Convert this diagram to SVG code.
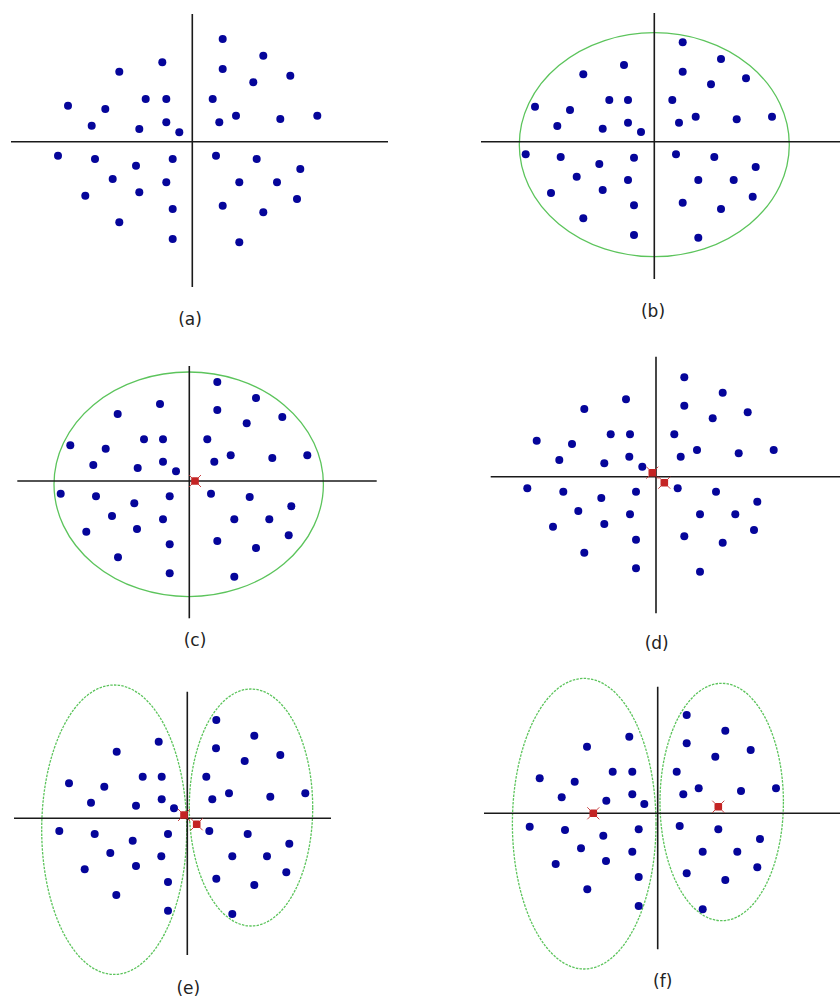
<svg xmlns="http://www.w3.org/2000/svg" xmlns:xlink="http://www.w3.org/1999/xlink" width="840" height="1005" viewBox="0 0 840 1005">
<style>
.ax{stroke:#1a1a1a;stroke-width:1.6;fill:none}
.el{stroke:#5cc45c;stroke-width:1.3;fill:none}
.eld{stroke:#5cc45c;stroke-width:1.3;fill:none;stroke-dasharray:2.5 1.2}
.d circle{fill:#05059a;r:4px}
.lb{font-family:"DejaVu Sans",Verdana,sans-serif;font-size:17px;fill:#222;text-anchor:middle}
.rx{stroke:#c23030;stroke-width:0.9}
.rc{fill:#c42424}
</style>
<defs>
<g id="red">
<line class="rx" x1="-6" y1="-6" x2="6" y2="6"/>
<line class="rx" x1="-6" y1="6" x2="6" y2="-6"/>
<rect class="rc" x="-3.8" y="-3.8" width="7.6" height="7.6" rx="1.5"/>
</g>
</defs>
<rect width="840" height="1005" fill="#ffffff"/>

<g id="panel-a">
<line class="ax" x1="192.3" y1="14" x2="192.3" y2="287"/>
<line class="ax" x1="11" y1="141.7" x2="388" y2="141.7"/>
<g class="d">
<circle cx="222.7" cy="39" r="4"/><circle cx="263.3" cy="55.7" r="4"/><circle cx="162.3" cy="62.3" r="4"/><circle cx="119.3" cy="71.7" r="4"/><circle cx="222.7" cy="69" r="4"/><circle cx="290.3" cy="75.7" r="4"/><circle cx="253.3" cy="82.3" r="4"/><circle cx="68" cy="105.7" r="4"/><circle cx="105.3" cy="109" r="4"/><circle cx="145.7" cy="99" r="4"/><circle cx="166.3" cy="99" r="4"/><circle cx="212.7" cy="99" r="4"/><circle cx="236" cy="115.7" r="4"/><circle cx="280.3" cy="119" r="4"/><circle cx="317.3" cy="115.7" r="4"/><circle cx="91.7" cy="125.7" r="4"/><circle cx="139.3" cy="129" r="4"/><circle cx="166.3" cy="122.3" r="4"/><circle cx="179.3" cy="132.3" r="4"/><circle cx="219.3" cy="122.3" r="4"/>
<circle cx="58" cy="155.7" r="4"/><circle cx="95" cy="159" r="4"/><circle cx="136" cy="165.7" r="4"/><circle cx="172.7" cy="159" r="4"/><circle cx="216" cy="155.7" r="4"/><circle cx="256.7" cy="159" r="4"/><circle cx="300.3" cy="169" r="4"/><circle cx="112.7" cy="179" r="4"/><circle cx="166.3" cy="182.3" r="4"/><circle cx="139.3" cy="192.3" r="4"/><circle cx="85.3" cy="195.7" r="4"/><circle cx="239.3" cy="182.3" r="4"/><circle cx="277" cy="182.3" r="4"/><circle cx="297" cy="199" r="4"/><circle cx="222.7" cy="205.7" r="4"/><circle cx="263.3" cy="212.3" r="4"/><circle cx="172.7" cy="209" r="4"/><circle cx="119.3" cy="222.3" r="4"/><circle cx="172.7" cy="239" r="4"/><circle cx="239.3" cy="242.3" r="4"/>
</g>
<text class="lb" x="190" y="325">(a)</text>
</g>

<g id="panel-b">
<ellipse class="el" cx="654.3" cy="144.7" rx="135" ry="112"/>
<line class="ax" x1="654.3" y1="13" x2="654.3" y2="279"/>
<line class="ax" x1="481" y1="141.7" x2="840" y2="141.7"/>
<g class="d">
<circle cx="682.7" cy="42.3" r="4"/><circle cx="721" cy="59" r="4"/><circle cx="624" cy="65" r="4"/><circle cx="583.3" cy="74.3" r="4"/><circle cx="682.7" cy="71.7" r="4"/><circle cx="746" cy="78.3" r="4"/><circle cx="711" cy="84.3" r="4"/><circle cx="535" cy="106.7" r="4"/><circle cx="570" cy="110" r="4"/><circle cx="609.3" cy="100" r="4"/><circle cx="628" cy="100" r="4"/><circle cx="672.3" cy="100" r="4"/><circle cx="695.7" cy="116.7" r="4"/><circle cx="736.7" cy="119.3" r="4"/><circle cx="772" cy="116.7" r="4"/><circle cx="557.3" cy="126" r="4"/><circle cx="602.7" cy="128.7" r="4"/><circle cx="628" cy="122.7" r="4"/><circle cx="641" cy="132" r="4"/><circle cx="679" cy="122.7" r="4"/>
<circle cx="525.7" cy="154.3" r="4"/><circle cx="560.7" cy="157" r="4"/><circle cx="599.3" cy="164" r="4"/><circle cx="634" cy="157.7" r="4"/><circle cx="676" cy="154.3" r="4"/><circle cx="714.3" cy="157" r="4"/><circle cx="755.7" cy="167" r="4"/><circle cx="576.7" cy="176.7" r="4"/><circle cx="628" cy="180" r="4"/><circle cx="602.7" cy="190" r="4"/><circle cx="551" cy="193" r="4"/><circle cx="698.3" cy="180" r="4"/><circle cx="733.7" cy="180" r="4"/><circle cx="752.7" cy="196.7" r="4"/><circle cx="682.7" cy="202.7" r="4"/><circle cx="721" cy="209" r="4"/><circle cx="634" cy="205.3" r="4"/><circle cx="583.3" cy="218.3" r="4"/><circle cx="634" cy="235" r="4"/><circle cx="698.3" cy="237.7" r="4"/>
</g>
<text class="lb" x="653" y="317">(b)</text>
</g>

<g id="panel-c">
<ellipse class="el" cx="188.7" cy="484.3" rx="134.7" ry="112.3"/>
<line class="ax" x1="189.3" y1="366" x2="189.3" y2="618.3"/>
<line class="ax" x1="17.3" y1="481" x2="376.7" y2="481"/>
<g class="d">
<circle cx="217.3" cy="382" r="4"/><circle cx="256" cy="398" r="4"/><circle cx="160" cy="404" r="4"/><circle cx="117.7" cy="414" r="4"/><circle cx="217.3" cy="410" r="4"/><circle cx="282.3" cy="417" r="4"/><circle cx="246.7" cy="423.3" r="4"/><circle cx="70.3" cy="445.3" r="4"/><circle cx="105.7" cy="448.7" r="4"/><circle cx="144" cy="439.3" r="4"/><circle cx="163" cy="439.3" r="4"/><circle cx="207.3" cy="439.3" r="4"/><circle cx="230.7" cy="455.3" r="4"/><circle cx="272.3" cy="458" r="4"/><circle cx="307.3" cy="455.3" r="4"/><circle cx="93.3" cy="465" r="4"/><circle cx="137.7" cy="468" r="4"/><circle cx="163" cy="461.7" r="4"/><circle cx="176" cy="471.3" r="4"/><circle cx="214.3" cy="461.7" r="4"/>
<circle cx="60.7" cy="493.7" r="4"/><circle cx="96" cy="496.3" r="4"/><circle cx="134.3" cy="503.3" r="4"/><circle cx="169.7" cy="496.3" r="4"/><circle cx="211" cy="493.7" r="4"/><circle cx="249.7" cy="497" r="4"/><circle cx="291.3" cy="506.3" r="4"/><circle cx="112" cy="516" r="4"/><circle cx="163" cy="519.3" r="4"/><circle cx="137" cy="529" r="4"/><circle cx="86.3" cy="531.7" r="4"/><circle cx="234.3" cy="519.3" r="4"/><circle cx="269.3" cy="519.3" r="4"/><circle cx="288.7" cy="535.3" r="4"/><circle cx="217.3" cy="541" r="4"/><circle cx="256" cy="548" r="4"/><circle cx="169.7" cy="544.3" r="4"/><circle cx="118" cy="557.3" r="4"/><circle cx="169.7" cy="573.3" r="4"/><circle cx="234.3" cy="576.7" r="4"/>
</g>
<use xlink:href="#red" href="#red" x="195" y="481"/>
<text class="lb" x="195" y="646">(c)</text>
</g>

<g id="panel-d">
<line class="ax" x1="656" y1="356.7" x2="656" y2="613.3"/>
<line class="ax" x1="490.7" y1="476.7" x2="840" y2="476.7"/>
<g class="d">
<circle cx="684.3" cy="377.3" r="4"/><circle cx="722.7" cy="392.7" r="4"/><circle cx="626" cy="399.3" r="4"/><circle cx="584.3" cy="409" r="4"/><circle cx="684.3" cy="405.7" r="4"/><circle cx="747.7" cy="412.3" r="4"/><circle cx="712.7" cy="418.3" r="4"/><circle cx="536.7" cy="440.7" r="4"/><circle cx="572" cy="444" r="4"/><circle cx="610.7" cy="434.3" r="4"/><circle cx="630" cy="434.3" r="4"/><circle cx="674.3" cy="434.3" r="4"/><circle cx="697" cy="450" r="4"/><circle cx="738.7" cy="453.3" r="4"/><circle cx="773.7" cy="450" r="4"/><circle cx="559.3" cy="460" r="4"/><circle cx="604.3" cy="463.3" r="4"/><circle cx="629.3" cy="456.7" r="4"/><circle cx="642.3" cy="466.7" r="4"/><circle cx="680.7" cy="456.7" r="4"/>
<circle cx="527.3" cy="488.3" r="4"/><circle cx="563.3" cy="491.7" r="4"/><circle cx="601.3" cy="498" r="4"/><circle cx="636" cy="491.7" r="4"/><circle cx="677.7" cy="488.3" r="4"/><circle cx="716" cy="491.7" r="4"/><circle cx="757.3" cy="501.7" r="4"/><circle cx="578.3" cy="511" r="4"/><circle cx="630" cy="514.3" r="4"/><circle cx="604.3" cy="524" r="4"/><circle cx="553" cy="526.7" r="4"/><circle cx="700" cy="514.3" r="4"/><circle cx="735.3" cy="514.3" r="4"/><circle cx="754" cy="530" r="4"/><circle cx="684.3" cy="536.3" r="4"/><circle cx="722.7" cy="542.7" r="4"/><circle cx="636" cy="539.7" r="4"/><circle cx="584.3" cy="552.7" r="4"/><circle cx="636" cy="568.3" r="4"/><circle cx="700" cy="571.7" r="4"/>
</g>
<use xlink:href="#red" href="#red" x="652.3" y="472.7"/>
<use xlink:href="#red" href="#red" x="664.3" y="482.7"/>
<text class="lb" x="656.7" y="649">(d)</text>
</g>

<g id="panel-e">
<ellipse class="eld" cx="114.2" cy="829.7" rx="72.5" ry="144.7"/>
<ellipse class="eld" cx="251" cy="807.5" rx="61.7" ry="118.5"/>
<line class="ax" x1="187.3" y1="691.7" x2="187.3" y2="955"/>
<line class="ax" x1="14" y1="818.3" x2="331" y2="818.3"/>
<g class="d">
<circle cx="216.3" cy="720" r="4"/><circle cx="254.3" cy="735.7" r="4"/><circle cx="158.7" cy="741.7" r="4"/><circle cx="116.7" cy="751.7" r="4"/><circle cx="216" cy="748.3" r="4"/><circle cx="280.3" cy="755" r="4"/><circle cx="244.7" cy="761" r="4"/><circle cx="69" cy="783.3" r="4"/><circle cx="104.3" cy="786.7" r="4"/><circle cx="142.7" cy="776.7" r="4"/><circle cx="161.7" cy="776.7" r="4"/><circle cx="206.3" cy="776.7" r="4"/><circle cx="229" cy="793.3" r="4"/><circle cx="270.3" cy="796.7" r="4"/><circle cx="305.3" cy="793.3" r="4"/><circle cx="91" cy="802.7" r="4"/><circle cx="136" cy="805.7" r="4"/><circle cx="161.7" cy="799.3" r="4"/><circle cx="174" cy="808.3" r="4"/><circle cx="212.3" cy="799.3" r="4"/>
<circle cx="59.3" cy="831" r="4"/><circle cx="94.7" cy="834" r="4"/><circle cx="132.7" cy="840.7" r="4"/><circle cx="168" cy="834" r="4"/><circle cx="209.3" cy="831" r="4"/><circle cx="247.7" cy="834" r="4"/><circle cx="289.3" cy="843.7" r="4"/><circle cx="110.3" cy="853" r="4"/><circle cx="161.3" cy="856.3" r="4"/><circle cx="136" cy="866" r="4"/><circle cx="84.7" cy="869.3" r="4"/><circle cx="232.3" cy="856.3" r="4"/><circle cx="267" cy="856.3" r="4"/><circle cx="286.3" cy="872.3" r="4"/><circle cx="216.3" cy="878.7" r="4"/><circle cx="254.3" cy="885" r="4"/><circle cx="168" cy="882" r="4"/><circle cx="116.3" cy="895" r="4"/><circle cx="168" cy="910.7" r="4"/><circle cx="232.3" cy="914" r="4"/>
</g>
<use xlink:href="#red" href="#red" x="184" y="815"/>
<use xlink:href="#red" href="#red" x="196.7" y="824.3"/>
<text class="lb" x="188.3" y="994">(e)</text>
</g>

<g id="panel-f">
<ellipse class="eld" cx="584.2" cy="823.7" rx="71.8" ry="145.3"/>
<ellipse class="eld" cx="721.7" cy="802" rx="61.7" ry="118.7"/>
<line class="ax" x1="657.7" y1="686.7" x2="657.7" y2="949.3"/>
<line class="ax" x1="484" y1="813.3" x2="840" y2="813.3"/>
<g class="d">
<circle cx="686.7" cy="715" r="4"/><circle cx="725.3" cy="730.7" r="4"/><circle cx="629.3" cy="736.7" r="4"/><circle cx="587" cy="746.7" r="4"/><circle cx="686.7" cy="743.3" r="4"/><circle cx="750.7" cy="750" r="4"/><circle cx="715.3" cy="756.7" r="4"/><circle cx="539.7" cy="778.3" r="4"/><circle cx="574.7" cy="781.7" r="4"/><circle cx="612.7" cy="771.7" r="4"/><circle cx="632.3" cy="771.7" r="4"/><circle cx="676.7" cy="771.7" r="4"/><circle cx="698.7" cy="788.3" r="4"/><circle cx="741" cy="791" r="4"/><circle cx="776" cy="788.3" r="4"/><circle cx="561.7" cy="797.3" r="4"/><circle cx="606.3" cy="800.7" r="4"/><circle cx="632.3" cy="794.3" r="4"/><circle cx="644.3" cy="804" r="4"/><circle cx="683.3" cy="794.3" r="4"/>
<circle cx="529.7" cy="826.7" r="4"/><circle cx="565" cy="830" r="4"/><circle cx="603.3" cy="835.7" r="4"/><circle cx="638.7" cy="829.3" r="4"/><circle cx="679.7" cy="826" r="4"/><circle cx="718.3" cy="829.3" r="4"/><circle cx="760" cy="839" r="4"/><circle cx="581" cy="848.3" r="4"/><circle cx="632.3" cy="851.7" r="4"/><circle cx="606" cy="861" r="4"/><circle cx="555.7" cy="864" r="4"/><circle cx="702.7" cy="851.7" r="4"/><circle cx="737.3" cy="851.7" r="4"/><circle cx="757.3" cy="867.3" r="4"/><circle cx="686.7" cy="873.3" r="4"/><circle cx="725.3" cy="880" r="4"/><circle cx="638.7" cy="877" r="4"/><circle cx="587.3" cy="889.3" r="4"/><circle cx="638.7" cy="906" r="4"/><circle cx="702.7" cy="909.3" r="4"/>
</g>
<use xlink:href="#red" href="#red" x="593.3" y="813.3"/>
<use xlink:href="#red" href="#red" x="718.3" y="806.7"/>
<text class="lb" x="662.7" y="987">(f)</text>
</g>
</svg>
